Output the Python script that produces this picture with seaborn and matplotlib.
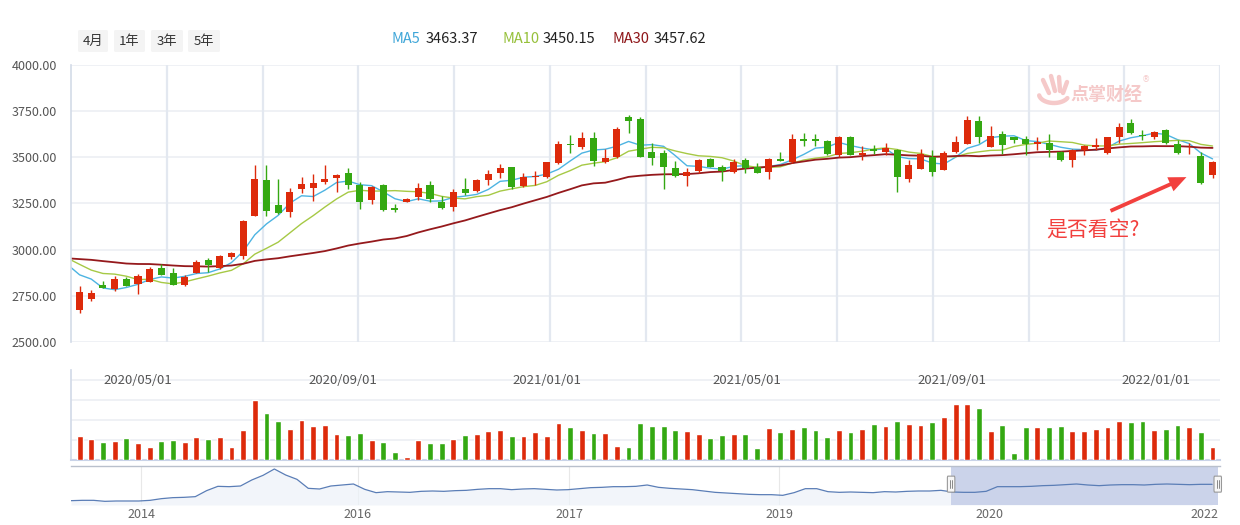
import numpy as np
import pandas as pd
import matplotlib
matplotlib.use("Agg")
import matplotlib.pyplot as plt
import matplotlib.patches as mpatches
from matplotlib.lines import Line2D
import matplotlib.transforms as mtransforms
import seaborn as sns

# ---------------- data (weekly candles) ----------------
opens = [2675, 2735, 2809, 2785, 2841, 2812, 2827, 2901, 2874, 2810,
         2874, 2944, 2901, 2960, 2966, 3184, 3377, 3242, 3206, 3328,
         3336, 3368, 3390, 3415, 3350, 3269, 3350, 3226, 3260, 3284,
         3350, 3256, 3229, 3327, 3319, 3377, 3417, 3447, 3345, 3391,
         3395, 3469, 3574, 3554, 3605, 3473, 3503, 3717, 3708, 3529,
         3524, 3442, 3399, 3428, 3489, 3446, 3422, 3484, 3449, 3422,
         3491, 3475, 3599, 3599, 3589, 3513, 3610, 3513, 3545, 3527,
         3542, 3384, 3439, 3503, 3433, 3529, 3574, 3695, 3558, 3626,
         3610, 3598, 3571, 3576, 3531, 3487, 3540, 3558, 3525, 3612,
         3685, 3623, 3612, 3648, 3572, 3521, 3507, 3404]
highs = [2803, 2780, 2830, 2857, 2854, 2868, 2908, 2921, 2902, 2861,
         2944, 2956, 2971, 2985, 3160, 3458, 3458, 3383, 3336, 3393,
         3410, 3458, 3410, 3442, 3365, 3345, 3355, 3247, 3281, 3363,
         3372, 3291, 3328, 3386, 3381, 3431, 3464, 3450, 3414, 3424,
         3476, 3587, 3621, 3637, 3637, 3543, 3664, 3731, 3719, 3576,
         3540, 3478, 3444, 3490, 3496, 3458, 3493, 3495, 3468, 3495,
         3531, 3628, 3632, 3628, 3594, 3617, 3615, 3560, 3567, 3578,
         3545, 3486, 3545, 3538, 3536, 3616, 3724, 3724, 3670, 3642,
         3612, 3615, 3610, 3626, 3535, 3545, 3567, 3606, 3612, 3686,
         3708, 3646, 3644, 3655, 3594, 3576, 3531, 3480]
lows = [2659, 2724, 2790, 2778, 2803, 2762, 2825, 2862, 2807, 2805,
        2872, 2879, 2898, 2949, 2950, 3180, 3182, 3192, 3178, 3308,
        3265, 3354, 3314, 3330, 3222, 3247, 3211, 3206, 3258, 3269,
        3260, 3219, 3211, 3294, 3312, 3349, 3390, 3330, 3338, 3352,
        3390, 3462, 3522, 3545, 3451, 3468, 3496, 3633, 3500, 3460,
        3330, 3392, 3346, 3413, 3446, 3373, 3417, 3417, 3414, 3384,
        3480, 3468, 3563, 3563, 3511, 3500, 3510, 3487, 3518, 3511,
        3314, 3368, 3435, 3397, 3430, 3525, 3570, 3576, 3555, 3518,
        3576, 3513, 3540, 3503, 3480, 3449, 3513, 3540, 3520, 3576,
        3628, 3592, 3598, 3572, 3520, 3518, 3355, 3390]
closes = [2771, 2765, 2794, 2841, 2805, 2857, 2895, 2864, 2810, 2852,
          2933, 2917, 2966, 2982, 3155, 3383, 3211, 3197, 3312, 3356,
          3363, 3383, 3404, 3352, 3256, 3338, 3216, 3217, 3274, 3332,
          3274, 3224, 3312, 3309, 3377, 3410, 3442, 3341, 3392, 3397,
          3475, 3572, 3565, 3605, 3482, 3495, 3653, 3695, 3503, 3498,
          3449, 3401, 3421, 3486, 3449, 3424, 3475, 3442, 3417, 3491,
          3482, 3599, 3590, 3587, 3518, 3610, 3513, 3525, 3536, 3551,
          3395, 3459, 3518, 3422, 3524, 3581, 3701, 3612, 3614, 3565,
          3592, 3572, 3583, 3540, 3486, 3540, 3560, 3567, 3610, 3663,
          3630, 3615, 3636, 3576, 3522, 3524, 3359, 3477]
volumes = [72, 63, 54, 57, 66, 51, 39, 57, 60, 54,
           69, 63, 69, 39, 90, 180, 141, 117, 93, 120,
           102, 105, 78, 75, 81, 60, 54, 24, 9, 60,
           51, 51, 63, 75, 78, 87, 90, 72, 72, 84,
           72, 111, 99, 90, 81, 81, 42, 39, 111, 102,
           102, 90, 87, 78, 66, 75, 78, 78, 36, 96,
           84, 93, 99, 90, 69, 90, 84, 93, 108, 102,
           117, 108, 105, 114, 129, 168, 168, 156, 87, 105,
           21, 99, 99, 99, 102, 87, 87, 93, 99, 117,
           114, 117, 90, 93, 105, 99, 84, 39]
# weekly closes preceding the first visible week (warm-up for the moving averages)
prior_closes = [2897.4, 2886.2, 2999.6, 3031.2, 3006.4, 2932.2, 2905.2, 2973.7, 2938.1, 2954.9,
                2958.2, 2964.2, 2891.3, 2885.3, 2872.0, 2912.0, 2967.7, 3004.9, 3005.0, 3083.8,
                3092.3, 3075.5, 2976.5, 2876.0, 2917.0, 3039.7, 2880.3, 3034.5, 2887.4, 2745.6]
start_date = "2020-03-27"
date_labels = ["2020/05/01", "2020/09/01", "2021/01/01", "2021/05/01", "2021/09/01", "2022/01/01"]
price_ticks = [2500, 2750, 3000, 3250, 3500, 3750, 4000]

# navigator (long history, sampled from the overview strip)
nav_values = [2031, 2062, 2062, 1969, 2000, 2000, 2000, 2062, 2217, 2310,
              2341, 2403, 2961, 3364, 3333, 3395, 3953, 4387, 4976, 4418,
              4015, 3178, 3116, 3395, 3488, 3581, 3085, 2775, 2868, 2837,
              2806, 2899, 2930, 2899, 2961, 2992, 3085, 3147, 3147, 3054,
              3116, 3147, 3085, 3023, 3054, 3147, 3240, 3271, 3333, 3333,
              3364, 3488, 3271, 3178, 3116, 3054, 2930, 2806, 2744, 2682,
              2620, 2589, 2589, 2527, 2775, 3147, 3147, 2868, 2806, 2837,
              2806, 2775, 2868, 2837, 2899, 2930, 2930, 2992, 2837, 2806,
              2806, 2899, 3333, 3333, 3333, 3364, 3426, 3457, 3519, 3581,
              3488, 3426, 3488, 3519, 3519, 3488, 3550, 3581, 3550, 3519,
              3550, 3550]
nav_labels = ["2014", "2016", "2017", "2019", "2020", "2022"]
nav_label_pos = [6.2, 25.4, 44.1, 62.7, 81.3, 100.3]
nav_window = [77.9, 101.5]

range_buttons = ["4月", "1年", "3年", "5年"]
ma_names = ["MA5", "MA10", "MA30"]
ma_values_text = ["3463.37", "3450.15", "3457.62"]
annotation_text = "是否看空?"
watermark_text = "点掌财经"

# ---------------- style ----------------
sns.set_theme(style="white")
plt.rcParams["font.family"] = ["Noto Sans CJK SC", "DejaVu Sans"]
plt.rcParams["axes.unicode_minus"] = False

RED = "#dd2a0b"
GREEN = "#34a812"
MA_COLORS = ["#4db4e2", "#a6c945", "#95191c"]
MA_TEXT_COLORS = ["#3fa6d8", "#96c03a", "#8e1518"]
GRID = "#eef0f5"
AXIS = "#d3dbe8"
ANN = "#f2403e"

W, H = 1240, 525
fig = plt.figure(figsize=(W / 100, H / 100), dpi=100)
fig.patch.set_facecolor("white")


def rect(x0, x1, y0, y1):
    """pixel box (top-left origin) -> figure fraction [l, b, w, h]"""
    return [x0 / W, 1 - y1 / H, (x1 - x0) / W, (y1 - y0) / H]


def fp(x, y):
    return (x / W, 1 - y / H)


n = len(closes)
idx = np.arange(n)
o = np.array(opens, float)
c = np.array(closes, float)
hi = np.array(highs, float)
lo = np.array(lows, float)
up = c >= o
cols = [RED if u else GREEN for u in up]

step_px = 11.68
x_left = -(79.6 - 71) / step_px
x_right = x_left + (1220 - 71) / step_px

# ---------------- main price panel ----------------
ax = fig.add_axes(rect(71, 1220, 65, 342))
ax.set_facecolor("white")
for s in ["top", "right", "bottom"]:
    ax.spines[s].set_visible(False)
ax.spines["left"].set_color(AXIS)
ax.spines["left"].set_linewidth(1.2)
ax.set_yticks(price_ticks)
ax.set_yticklabels([f"{v:.2f}" for v in price_ticks])
ax.tick_params(axis="y", length=0, pad=10, labelsize=9, labelcolor="#555555")
ax.set_xticks([])
ax.grid(False)
for v in price_ticks:
    ax.axhline(v, color=GRID, lw=1.3, zorder=0)
for k in range(1, 13):
    ax.plot([k / 12, k / 12], [0, 1], transform=ax.transAxes,
            color="#e3e8f0", lw=1.6, zorder=0)

# moving averages
full = pd.Series(prior_closes + closes, dtype=float)
ma_x = np.arange(-1, n)
for win, col, lw in zip([5, 10, 30], MA_COLORS, [1.0, 1.0, 1.3]):
    ma = full.rolling(win).mean().to_numpy()[len(prior_closes) - 1:]
    sns.lineplot(x=ma_x, y=ma, ax=ax, color=col, lw=lw, zorder=2)

# candles
ax.vlines(idx, lo, hi, colors=cols, lw=1.0, zorder=3)
body_bot = np.minimum(o, c)
body_h = np.maximum(np.abs(c - o), 4)
ax.bar(idx, body_h, bottom=body_bot, width=0.6, color=cols, linewidth=0, zorder=4)
ax.set_xlim(x_left, x_right)
ax.set_ylim(2500, 4000)
ax.set_xlabel("")
ax.set_ylabel("")

# ---------------- volume panel ----------------
axv = fig.add_axes(rect(71, 1220, 370, 460))
vol_df = pd.DataFrame({"week": idx, "volume": volumes,
                       "dir": ["up" if u else "down" for u in up]})
sns.barplot(data=vol_df, x="week", y="volume", hue="dir",
            palette={"up": RED, "down": GREEN}, dodge=False, width=0.5,
            saturation=1, legend=False, ax=axv, zorder=3)
axv.set_xlim(x_left, x_right)
axv.set_ylim(0, 270)
axv.set_xticks([])
axv.set_yticks([])
axv.set_xlabel("")
axv.set_ylabel("")
for v in [60, 120, 180, 240]:
    axv.axhline(v, color=GRID, lw=1.3, zorder=0)
for s in ["top", "right"]:
    axv.spines[s].set_visible(False)
axv.spines["left"].set_color(AXIS)
axv.spines["bottom"].set_color("#c9d3e8")
axv.spines["bottom"].set_linewidth(1.5)
t0 = pd.Timestamp(start_date)
bt = mtransforms.blended_transform_factory(axv.transData, axv.transAxes)
for lab in date_labels:
    pos = (pd.Timestamp(lab.replace("/", "-")) - t0).days / 7
    axv.text(pos, 0.878, lab, transform=bt, ha="center", va="center",
             fontsize=9.5, color="#555555", zorder=5)

# ---------------- navigator ----------------
axn = fig.add_axes(rect(71, 1220, 466, 505))
nav_x = np.arange(len(nav_values))
nav_bottom, nav_top = 1628, 5255
axn.axvspan(nav_window[0], nav_window[1], color="#cbd3ea", zorder=1, lw=0)
axn.fill_between(nav_x, nav_values, nav_bottom, color="#edf2f9", alpha=0.7, zorder=0.5, lw=0)
sns.lineplot(x=nav_x, y=nav_values, ax=axn, color="#5a7db6", lw=0.9, zorder=2)
for p in nav_label_pos:
    axn.axvline(p, color="#e8e8e8", lw=0.8, zorder=0.2)
axn.set_xlim(0, 101.7)
axn.set_ylim(nav_bottom, nav_top)
axn.set_xticks(nav_label_pos)
axn.set_xticklabels(nav_labels)
axn.tick_params(axis="x", length=0, pad=2, labelsize=9, labelcolor="#666666")
axn.set_yticks([])
axn.set_xlabel("")
axn.set_ylabel("")
for s in ["left", "right", "bottom"]:
    axn.spines[s].set_visible(False)
axn.spines["top"].set_color("#b9c0cc")
axn.spines["top"].set_linewidth(1.0)
ht = mtransforms.blended_transform_factory(axn.transData, axn.transAxes)
for wpos in nav_window:
    axn.add_patch(mpatches.FancyBboxPatch((wpos - 0.33, 0.33), 0.66, 0.41,
                                          boxstyle="round,pad=0,rounding_size=0.05",
                                          transform=ht, facecolor="#f7f7f7",
                                          edgecolor="#999999", lw=0.8, zorder=5,
                                          clip_on=False))
    for dx in (-0.1, 0.1):
        axn.plot([wpos + dx, wpos + dx], [0.43, 0.64], transform=ht,
                 color="#777777", lw=0.6, zorder=6, clip_on=False)

# ---------------- header ----------------
btn_x = [(78, 108), (114, 145), (151, 183), (188, 220)]
for (x0, x1), lab in zip(btn_x, range_buttons):
    fig.patches.append(mpatches.FancyBboxPatch(
        fp(x0, 52), (x1 - x0) / W, 22 / H,
        boxstyle="round,pad=0,rounding_size=0.002",
        transform=fig.transFigure, facecolor="#f4f4f4", edgecolor="none"))
    fig.text(*fp((x0 + x1) / 2, 41), lab, ha="center", va="center",
             fontsize=9.5, color="#333333")

legend_x = [(392, 426), (502, 543), (612, 654)]
for (xn, xv), name, val, col in zip(legend_x, ma_names, ma_values_text, MA_TEXT_COLORS):
    fig.text(*fp(xn, 39), name, ha="left", va="center", fontsize=10.5, color=col)
    fig.text(*fp(xv, 39), val, ha="left", va="center", fontsize=10.5, color="#222222")

# ---------------- watermark ----------------
PINK = "#f5c9c9"
for (xa, ya), (xb, yb) in [((1043, 80), (1049, 93)), ((1051, 76), (1055, 91)),
                           ((1059, 77), (1060, 91)), ((1067, 82), (1063, 93))]:
    fig.add_artist(Line2D([xa / W, xb / W], [1 - ya / H, 1 - yb / H],
                          color=PINK, lw=3.2, solid_capstyle="round"))
arc_t = np.linspace(0.15, 0.95, 20) * np.pi
fig.add_artist(Line2D((1054 + 15 * np.cos(arc_t)) / W, 1 - (94 + 9 * np.sin(arc_t)) / H,
                      color=PINK, lw=3.2, solid_capstyle="round"))
fig.text(*fp(1070, 95), watermark_text, ha="left", va="center", fontsize=13,
         fontweight="bold", color=PINK)
fig.text(*fp(1146, 80), "®", ha="center", va="center", fontsize=6, color=PINK,
         family=["DejaVu Sans"])

# ---------------- annotation ----------------
arrow = mpatches.FancyArrowPatch(fp(1108, 212), fp(1189, 176), transform=fig.transFigure,
                                 arrowstyle="simple,head_length=1.15,head_width=1.0,tail_width=0.25",
                                 mutation_scale=11, color=ANN, lw=0)
fig.add_artist(arrow)
fig.text(*fp(1046, 231), annotation_text, ha="left", va="center", fontsize=15, color=ANN)

fig.savefig("out.png", dpi=100)
